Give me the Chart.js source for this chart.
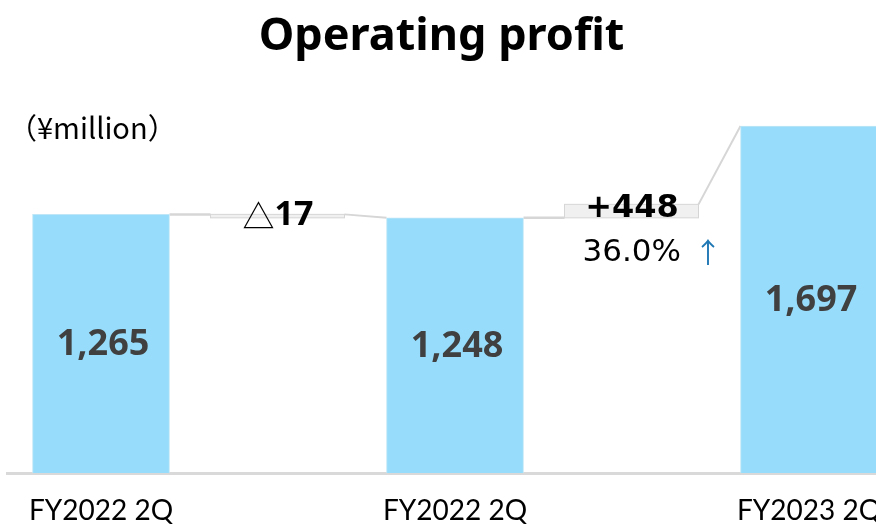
<!DOCTYPE html>
<html><head><meta charset="utf-8">
<script src="https://cdn.jsdelivr.net/npm/chart.js@4.4.1/dist/chart.umd.min.js"></script>
<style>html,body{margin:0;padding:0;background:#fff;overflow:hidden}#wrap{width:876px;height:524px;position:relative}</style>
</head><body><div id="wrap"><canvas id="c"></canvas></div>
<script>
const categories = ['FY2022 2Q', 'FY2022 2Q', 'FY2023 2Q'];
const values = [1265, 1248, 1697];
const valueLabels = ['1,265', '1,248', '1,697'];
const xSlots = [0, 2, 4];
const changeMarks = ['△', ''];
const changeLabels = ['17', '+448'];
const changePct = ['', '36.0%'];
const changeArrows = ['', '↑'];
const unitLabel = '（¥million）';
const yRange = [0, 1800];

const connectors = {
  id: 'connectors',
  beforeDatasetsDraw(chart) {
    const ctx = chart.ctx;
    const bars = chart.getDatasetMeta(0).data;
    ctx.save();
    for (let i = 0; i < bars.length - 1; i++) {
      const a = bars[i], b = bars[i + 1];
      const x0 = a.x + a.width / 2, x1 = b.x - b.width / 2;
      const y0 = a.y, y1 = b.y;
      const bl = x0 + 41, br = x1 - 42;
      let top, bot;
      if (y1 >= y0) { top = y0; bot = y1; } else { top = y0 - 13.5; bot = y0; }
      ctx.strokeStyle = '#d6d6d6';
      ctx.lineWidth = 2.5;
      ctx.beginPath(); ctx.moveTo(x0, y0); ctx.lineTo(bl, y0); ctx.stroke();
      ctx.fillStyle = '#f0f0f0';
      ctx.fillRect(bl, top, br - bl, bot - top);
      ctx.lineWidth = 1;
      ctx.strokeRect(bl, top, br - bl, bot - top);
      ctx.lineWidth = 2;
      ctx.beginPath(); ctx.moveTo(br, top); ctx.lineTo(x1, y1); ctx.stroke();
      a.$gap = { cx: (x0 + x1) / 2, top, bot, bl, br };
    }
    ctx.restore();
  },
  afterDatasetsDraw(chart) {
    const ctx = chart.ctx;
    const bars = chart.getDatasetMeta(0).data;
    ctx.save();
    ctx.textBaseline = 'middle';
    ctx.textAlign = 'center';
    ctx.fillStyle = '#404040';
    ctx.font = 'bold 36px "Noto Sans"';
    bars.forEach((b, i) => {
      ctx.fillText(valueLabels[i], b.x + 2, (b.y + b.base) / 2 + 1);
    });
    for (let i = 0; i < bars.length - 1; i++) {
      const g = bars[i].$gap;
      ctx.fillStyle = '#000';
      const markFont = '32px "Noto Sans CJK JP"';
      const numFont = changeMarks[i] ? 'bold 34px "Noto Sans"' : 'bold 32px "DejaVu Sans"';
      const dy = changeMarks[i] ? 1 : 4;
      ctx.font = markFont;
      const mw = changeMarks[i] ? ctx.measureText(changeMarks[i]).width : 0;
      ctx.font = numFont;
      const nw = ctx.measureText(changeLabels[i]).width;
      let sx = g.cx - (mw + nw) / 2;
      ctx.textAlign = 'left';
      if (changeMarks[i]) {
        ctx.font = markFont;
        ctx.fillText(changeMarks[i], sx, g.top + dy);
      }
      ctx.font = numFont;
      ctx.fillText(changeLabels[i], sx + mw, g.top + dy);
      if (changePct[i]) {
        ctx.font = '31px "DejaVu Sans"';
        ctx.textAlign = 'right';
        ctx.fillText(changePct[i], g.cx + 49, g.bot + 35);
        ctx.fillStyle = '#1f77b4';
        ctx.textAlign = 'left';
        ctx.font = '28px "Noto Sans CJK JP"';
        ctx.fillText(changeArrows[i], g.cx + 62, g.bot + 35);
      }
    }
    ctx.fillStyle = '#000';
    ctx.textAlign = 'left';
    ctx.font = '29px "Noto Sans CJK JP"';
    ctx.fillText(unitLabel, 8, 128);
    ctx.restore();
  }
};

new Chart(document.getElementById('c'), {
  type: 'bar',
  data: {
    datasets: [{
      data: xSlots.map((x, i) => ({ x, y: values[i] })),
      backgroundColor: '#97DDFB',
      borderColor: '#bfe6f6',
      borderWidth: 1,
      barThickness: 137
    }]
  },
  options: {
    responsive: true,
    maintainAspectRatio: false,
    animation: false,
    layout: { padding: { left: 7, right: 0, top: 0, bottom: 0 } },
    plugins: {
      legend: { display: false },
      tooltip: { enabled: false },
      title: {
        display: true,
        text: 'Operating profit',
        color: '#000',
        font: { family: '"Noto Sans"', weight: 'bold', size: 45, lineHeight: 1.2 },
        padding: { top: 10, bottom: 41 }
      }
    },
    scales: {
      x: {
        type: 'linear',
        offset: false,
        min: -0.5311,
        max: 4.3785,
        grid: { display: false, drawTicks: false },
        border: { display: true, color: '#d9d9d9', width: 3 },
        afterBuildTicks: (axis) => { axis.ticks = xSlots.map(v => ({ value: v })); },
        afterFit: (axis) => { axis.paddingLeft = 0; axis.paddingRight = 0; axis.height = 51; },
        ticks: {
          autoSkip: false,
          maxRotation: 0,
          padding: 24,
          color: '#000',
          font: { family: 'Lato', size: 28, lineHeight: 1 },
          callback: (v) => categories[xSlots.indexOf(v)]
        }
      },
      y: {
        display: false,
        min: yRange[0],
        max: yRange[1]
      }
    }
  },
  plugins: [connectors]
});
</script>
</body></html>
